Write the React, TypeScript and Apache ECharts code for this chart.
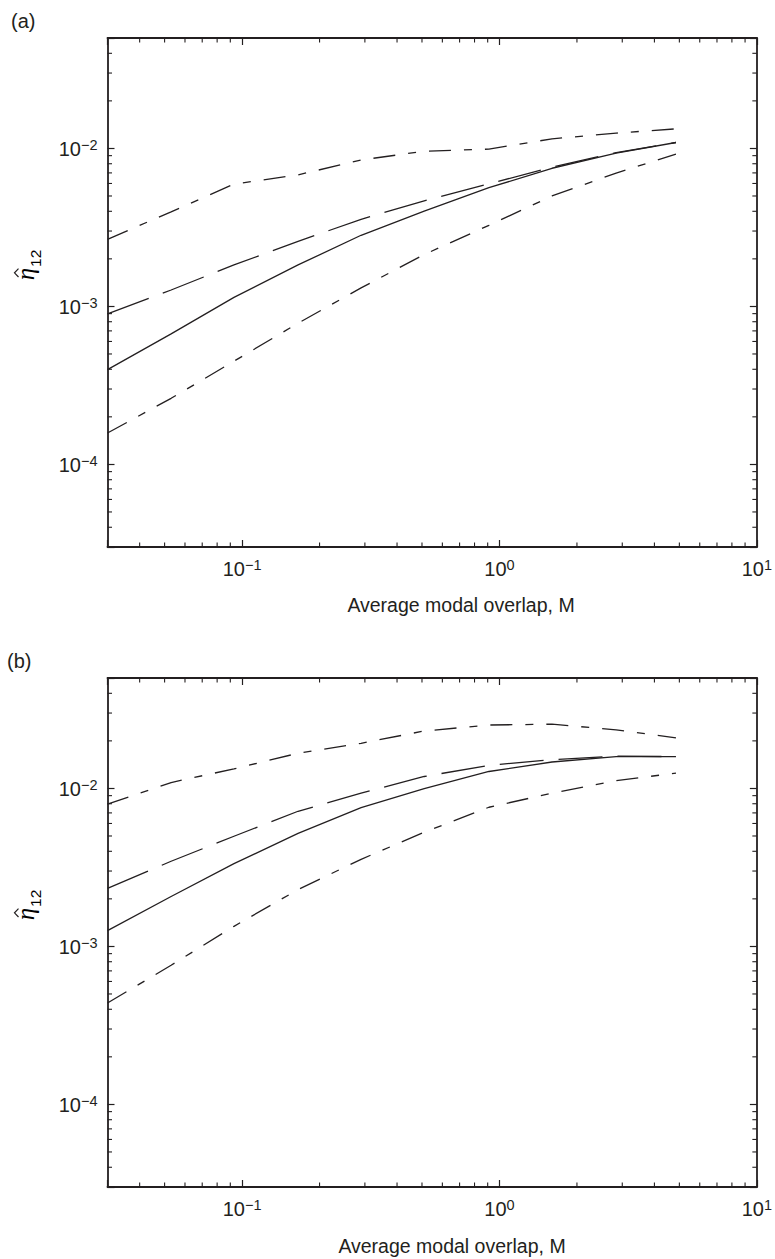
import React, { useEffect, useRef } from 'react';
import * as echarts from 'echarts';

// Average modal overlap M (sample points)
const M = [0.03, 0.053, 0.093, 0.165, 0.29, 0.51, 0.91, 1.6, 2.84, 4.85];

// Panel (a)
const aUpper = [2.66e-3, 3.97e-3, 5.95e-3, 6.8e-3, 8.45e-3, 9.6e-3, 9.9e-3, 1.15e-2, 1.25e-2, 1.33e-2];
const aDashed = [8.98e-4, 1.27e-3, 1.83e-3, 2.58e-3, 3.56e-3, 4.66e-3, 5.97e-3, 7.6e-3, 9.4e-3, 1.09e-2];
const aSolid = [3.98e-4, 6.7e-4, 1.14e-3, 1.83e-3, 2.82e-3, 4.01e-3, 5.64e-3, 7.49e-3, 9.33e-3, 1.09e-2];
const aLower = [1.58e-4, 2.62e-4, 4.5e-4, 7.83e-4, 1.31e-3, 2.13e-3, 3.26e-3, 5.0e-3, 6.98e-3, 9.2e-3];

// Panel (b)
const bUpper = [7.96e-3, 1.09e-2, 1.33e-2, 1.67e-2, 1.93e-2, 2.31e-2, 2.52e-2, 2.55e-2, 2.35e-2, 2.09e-2];
const bDashed = [2.33e-3, 3.46e-3, 4.98e-3, 7.17e-3, 9.33e-3, 1.19e-2, 1.4e-2, 1.52e-2, 1.6e-2, 1.59e-2];
const bSolid = [1.26e-3, 2.07e-3, 3.34e-3, 5.19e-3, 7.55e-3, 9.98e-3, 1.28e-2, 1.47e-2, 1.59e-2, 1.59e-2];
const bLower = [4.38e-4, 7.6e-4, 1.34e-3, 2.29e-3, 3.56e-3, 5.28e-3, 7.6e-3, 9.33e-3, 1.12e-2, 1.25e-2];

// Axis ranges and minor tick values
const X_MIN = 0.03;
const X_MAX = 10;
const Y_MIN = 3e-5;
const Y_MAX = 0.05;
const xMinor = [0.04, 0.05, 0.06, 0.07, 0.08, 0.09, 0.2, 0.3, 0.4, 0.5, 0.6, 0.7, 0.8, 0.9, 2, 3, 4, 5, 6, 7, 8, 9];
const yMinor = [4e-5, 5e-5, 6e-5, 7e-5, 8e-5, 9e-5, 2e-4, 3e-4, 4e-4, 5e-4, 6e-4, 7e-4, 8e-4, 9e-4,
  2e-3, 3e-3, 4e-3, 5e-3, 6e-3, 7e-3, 8e-3, 9e-3, 2e-2, 3e-2, 4e-2];

const panelLabels = ['(a)', '(b)'];
const xTitle = 'Average modal overlap, M';

const INK = '#231f20';
const FONT = "'Liberation Sans', Arial, Helvetica, sans-serif";
const SERIF = "'Liberation Serif', 'DejaVu Serif', serif";
const DASHDOT = [22, 13, 8, 13];
const LONGDASH = [44, 15];

function isDecade(v: number) {
  const l = Math.log10(v);
  return Math.abs(l - Math.round(l)) < 1e-6;
}
function fmt(v: number) {
  if (!isDecade(v)) return '';
  const e = Math.round(Math.log10(v));
  return '{b|10}{s|' + (e < 0 ? '\u2212' + -e : String(e)) + '}';
}

const labelRich = {
  b: { fontSize: 20, fontFamily: FONT, color: INK, padding: [2, 0, 0, 0], verticalAlign: 'bottom' },
  s: { fontSize: 14.5, fontFamily: FONT, color: INK, verticalAlign: 'top' },
};

export default function App() {
  const ref = useRef<HTMLDivElement>(null);
  useEffect(() => {
    if (!ref.current) return;
    const chart = echarts.init(ref.current, undefined, { renderer: 'svg' });
    const grids = [
      { left: 107.5, top: 38, width: 653.5, height: 509 },
      { left: 107.5, top: 678, width: 653.5, height: 509 },
    ];
    const xAxes: any[] = [];
    const yAxes: any[] = [];
    const series: any[] = [];
    const panels = [
      [aUpper, aDashed, aSolid, aLower],
      [bUpper, bDashed, bSolid, bLower],
    ];
    const tickData: number[][] = [];
    xMinor.forEach((v) => tickData.push([v, 1e-3, 0]));
    yMinor.forEach((v) => tickData.push([0.1, v, 1]));

    grids.forEach((_, g) => {
      const common = {
        type: 'log',
        logBase: 10,
        gridIndex: g,
        axisLine: { show: true, lineStyle: { color: INK, width: 1.8 } },
        axisTick: { show: true, inside: true, length: 7, lineStyle: { color: INK, width: 1.2 } },
        splitLine: { show: false },
        minorTick: { show: false },
      };
      xAxes.push({
        ...common, min: X_MIN, max: X_MAX, position: 'bottom',
        axisLabel: { show: true, margin: 10, fontSize: 20, formatter: fmt, rich: labelRich },
      });
      xAxes.push({ ...common, min: X_MIN, max: X_MAX, position: 'top', axisLabel: { show: false } });
      yAxes.push({
        ...common, min: Y_MIN, max: Y_MAX, position: 'left',
        axisLabel: { show: true, margin: 10, fontSize: 20, formatter: fmt, rich: labelRich },
      });
      yAxes.push({ ...common, min: Y_MIN, max: Y_MAX, position: 'right', axisLabel: { show: false } });

      const styles = [DASHDOT, LONGDASH, 'solid', DASHDOT];
      panels[g].forEach((vals, i) => {
        series.push({
          type: 'line',
          xAxisIndex: 2 * g,
          yAxisIndex: 2 * g,
          data: M.map((m, k) => [m, vals[k]]),
          showSymbol: false,
          symbol: 'none',
          silent: true,
          lineStyle: { color: INK, width: 1.3, type: styles[i] as any },
        });
      });
      series.push({
        type: 'custom',
        xAxisIndex: 2 * g,
        yAxisIndex: 2 * g,
        silent: true,
        data: tickData,
        renderItem: (params: any, api: any) => {
          const cs = params.coordSys;
          const kind = api.value(2);
          const p = api.coord([api.value(0), api.value(1)]);
          const st = { stroke: INK, lineWidth: 1.1 };
          const L = 4.5;
          if (kind === 0) {
            return {
              type: 'group',
              children: [
                { type: 'line', shape: { x1: p[0], y1: cs.y + cs.height, x2: p[0], y2: cs.y + cs.height - L }, style: st },
                { type: 'line', shape: { x1: p[0], y1: cs.y, x2: p[0], y2: cs.y + L }, style: st },
              ],
            };
          }
          return {
            type: 'group',
            children: [
              { type: 'line', shape: { x1: cs.x, y1: p[1], x2: cs.x + L, y2: p[1] }, style: st },
              { type: 'line', shape: { x1: cs.x + cs.width, y1: p[1], x2: cs.x + cs.width - L, y2: p[1] }, style: st },
            ],
          };
        },
      });
    });

    const etaRich = {
      e: { fontSize: 25, fontFamily: SERIF, fontStyle: 'italic', color: INK, verticalAlign: 'top', padding: [0, 1, 6, 0] },
      s: { fontSize: 15.5, fontFamily: FONT, color: INK, verticalAlign: 'bottom' },
    };
    const etaLabel = (cy: number) => ({
      type: 'group',
      x: 28,
      y: cy,
      rotation: Math.PI / 2,
      children: [
        { type: 'text', x: 0, y: 0, style: { text: '{e|η}{s|12}', rich: etaRich, align: 'center', verticalAlign: 'middle' } },
        { type: 'polyline', shape: { points: [[-12, -9.5], [-7.8, -13.5], [-3.6, -9.5]] }, style: { stroke: INK, lineWidth: 1.2, fill: 'none' } },
      ],
    });

    const graphic: any[] = [
      { type: 'text', left: 11, top: 11, style: { text: panelLabels[0], fontSize: 20, fontFamily: FONT, fill: INK } },
      { type: 'text', left: 7, top: 651, style: { text: panelLabels[1], fontSize: 20, fontFamily: FONT, fill: INK } },
      { type: 'text', x: 461, y: 605, style: { text: xTitle, fontSize: 19.5, fontFamily: FONT, fill: INK, align: 'center', verticalAlign: 'middle' } },
      { type: 'text', x: 452, y: 1246, style: { text: xTitle, fontSize: 19.5, fontFamily: FONT, fill: INK, align: 'center', verticalAlign: 'middle' } },
      etaLabel(265),
      etaLabel(905),
    ];

    chart.setOption({
      animation: false,
      backgroundColor: '#ffffff',
      grid: grids.map((g) => ({ ...g, containLabel: false })),
      xAxis: xAxes,
      yAxis: yAxes,
      series,
      graphic,
    });
    return () => chart.dispose();
  }, []);
  return <div ref={ref} style={{ position: 'absolute', left: 0, top: 0, width: 775, height: 1259 }} />;
}
